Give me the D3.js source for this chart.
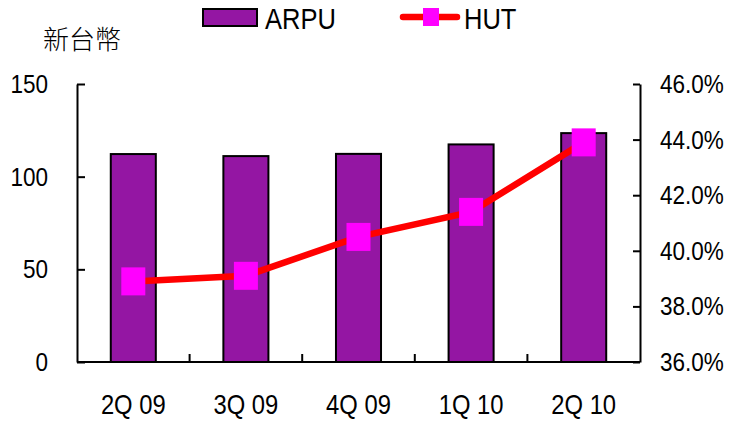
<!DOCTYPE html>
<html>
<head>
<meta charset="utf-8">
<script src="https://cdnjs.cloudflare.com/ajax/libs/d3/7.8.5/d3.min.js"></script>
<style>
body{margin:0;background:#fff;}
text{font-family:"Liberation Sans",Arial,sans-serif;fill:#000;}
</style>
</head>
<body>
<div id="root"></div>
<script>
// chart data
var quarters=['2Q 09','3Q 09','4Q 09','1Q 10','2Q 10'];
var arpu=[112.2,111.1,112.3,117.4,123.5];
var hut=[0.389,0.391,0.405,0.414,0.439];
var leftTicks=[0,50,100,150];
var rightTicks=[0.36,0.38,0.40,0.42,0.44,0.46];

var W=734,H=421;
var b={t:84,r:94,b:59,l:77};
var sx=0.85; // the original type is narrow, squeeze it

var svg=d3.select('#root').append('svg')
			.attr('id','mainsvg')
			.attr('width',W)
			.attr('height',H);

function squeeze(sel){
	sel.each(function(){
		var t=d3.select(this);
		var x=+t.attr('x')||0;
		t.attr('x',x/sx).attr('transform','scale('+sx+',1)');
	});
}

var scaleX=d3.scaleBand()
			.domain(quarters)
			.range([b.l,W-b.r])
			.paddingInner(0.6)
			.paddingOuter(0.3);

var scaleY=d3.scaleLinear().domain([0,150]).range([H-b.b,b.t]);
var scaleY2=d3.scaleLinear().domain([0.36,0.46]).range([H-b.b,b.t]);

// bars
svg.selectAll('.bar').data(arpu).enter().append('rect')
	.attr('class','bar')
	.attr('x',function(d,i){return scaleX(quarters[i])})
	.attr('y',function(d){return scaleY(d)})
	.attr('width',scaleX.bandwidth())
	.attr('height',function(d){return scaleY(0)-scaleY(d)})
	.attr('fill','#9416A3')
	.attr('stroke','#000')
	.attr('stroke-width',2);

// axes
var yAxis=d3.axisLeft(scaleY).tickValues(leftTicks).tickSize(-8).tickSizeOuter(0).tickPadding(29);
var gy=svg.append('g').attr('transform','translate('+b.l+',0)').call(yAxis);

var yAxis2=d3.axisRight(scaleY2).tickValues(rightTicks).tickSize(-7).tickSizeOuter(0).tickPadding(20)
			.tickFormat(d3.format('.1%'));
var gy2=svg.append('g').attr('transform','translate('+(W-b.r)+',0)').call(yAxis2);

[gy,gy2].forEach(function(a){
	a.selectAll('path').attr('stroke','#000').attr('stroke-width',2);
	a.selectAll('line').attr('stroke','#000').attr('stroke-width',2);
	a.selectAll('text').style('font-size','26.5px').attr('fill','#000').call(squeeze);
});

// x axis line + ticks between categories
svg.append('line')
	.attr('x1',b.l).attr('x2',W-b.r)
	.attr('y1',scaleY(0)).attr('y2',scaleY(0))
	.attr('stroke','#000').attr('stroke-width',2);

svg.selectAll('.xtick').data(quarters.slice(1)).enter().append('line')
	.attr('class','xtick')
	.attr('x1',function(d){return scaleX(d)-scaleX.step()*0.3})
	.attr('x2',function(d){return scaleX(d)-scaleX.step()*0.3})
	.attr('y1',scaleY(0)).attr('y2',scaleY(0)-8)
	.attr('stroke','#000').attr('stroke-width',2);

svg.selectAll('.xlabel').data(quarters).enter().append('text')
	.attr('class','xlabel')
	.attr('x',function(d){return scaleX(d)+scaleX.bandwidth()/2})
	.attr('y',414)
	.attr('text-anchor','middle')
	.style('font-size','28px')
	.text(function(d){return d})
	.call(squeeze);

// HUT line
var line=d3.line()
	.x(function(d,i){return scaleX(quarters[i])+scaleX.bandwidth()/2})
	.y(function(d){return scaleY2(d)});

svg.append('path').datum(hut)
	.attr('d',line)
	.attr('fill','none')
	.attr('stroke','#FF0000')
	.attr('stroke-width',6.5);

svg.selectAll('.mark').data(hut).enter().append('rect')
	.attr('class','mark')
	.attr('x',function(d,i){return scaleX(quarters[i])+scaleX.bandwidth()/2-12})
	.attr('y',function(d){return scaleY2(d)-14})
	.attr('width',24).attr('height',28)
	.attr('fill','#FF00FF');

// unit label
svg.append('text')
	.attr('x',43).attr('y',49)
	.style('font-family','"Noto Sans CJK TC","Noto Sans CJK SC",sans-serif')
	.style('font-size','26px')
	.style('font-weight','300')
	.text('新台幣');

// legend
var legend=svg.append('g').attr('id','legend');
legend.append('rect')
	.attr('x',203).attr('y',9).attr('width',54).attr('height',17)
	.attr('fill','#9416A3').attr('stroke','#000').attr('stroke-width',2);
legend.append('text').attr('x',265).attr('y',29).style('font-size','30px').text('ARPU').call(squeeze);

legend.append('line')
	.attr('x1',403).attr('x2',457).attr('y1',17).attr('y2',17)
	.attr('stroke','#FF0000').attr('stroke-width',6.5).attr('stroke-linecap','round');
legend.append('rect')
	.attr('x',423).attr('y',8).attr('width',16).attr('height',18)
	.attr('fill','#FF00FF');
legend.append('text').attr('x',464).attr('y',29).style('font-size','30px').text('HUT').call(squeeze);
</script>
</body>
</html>
